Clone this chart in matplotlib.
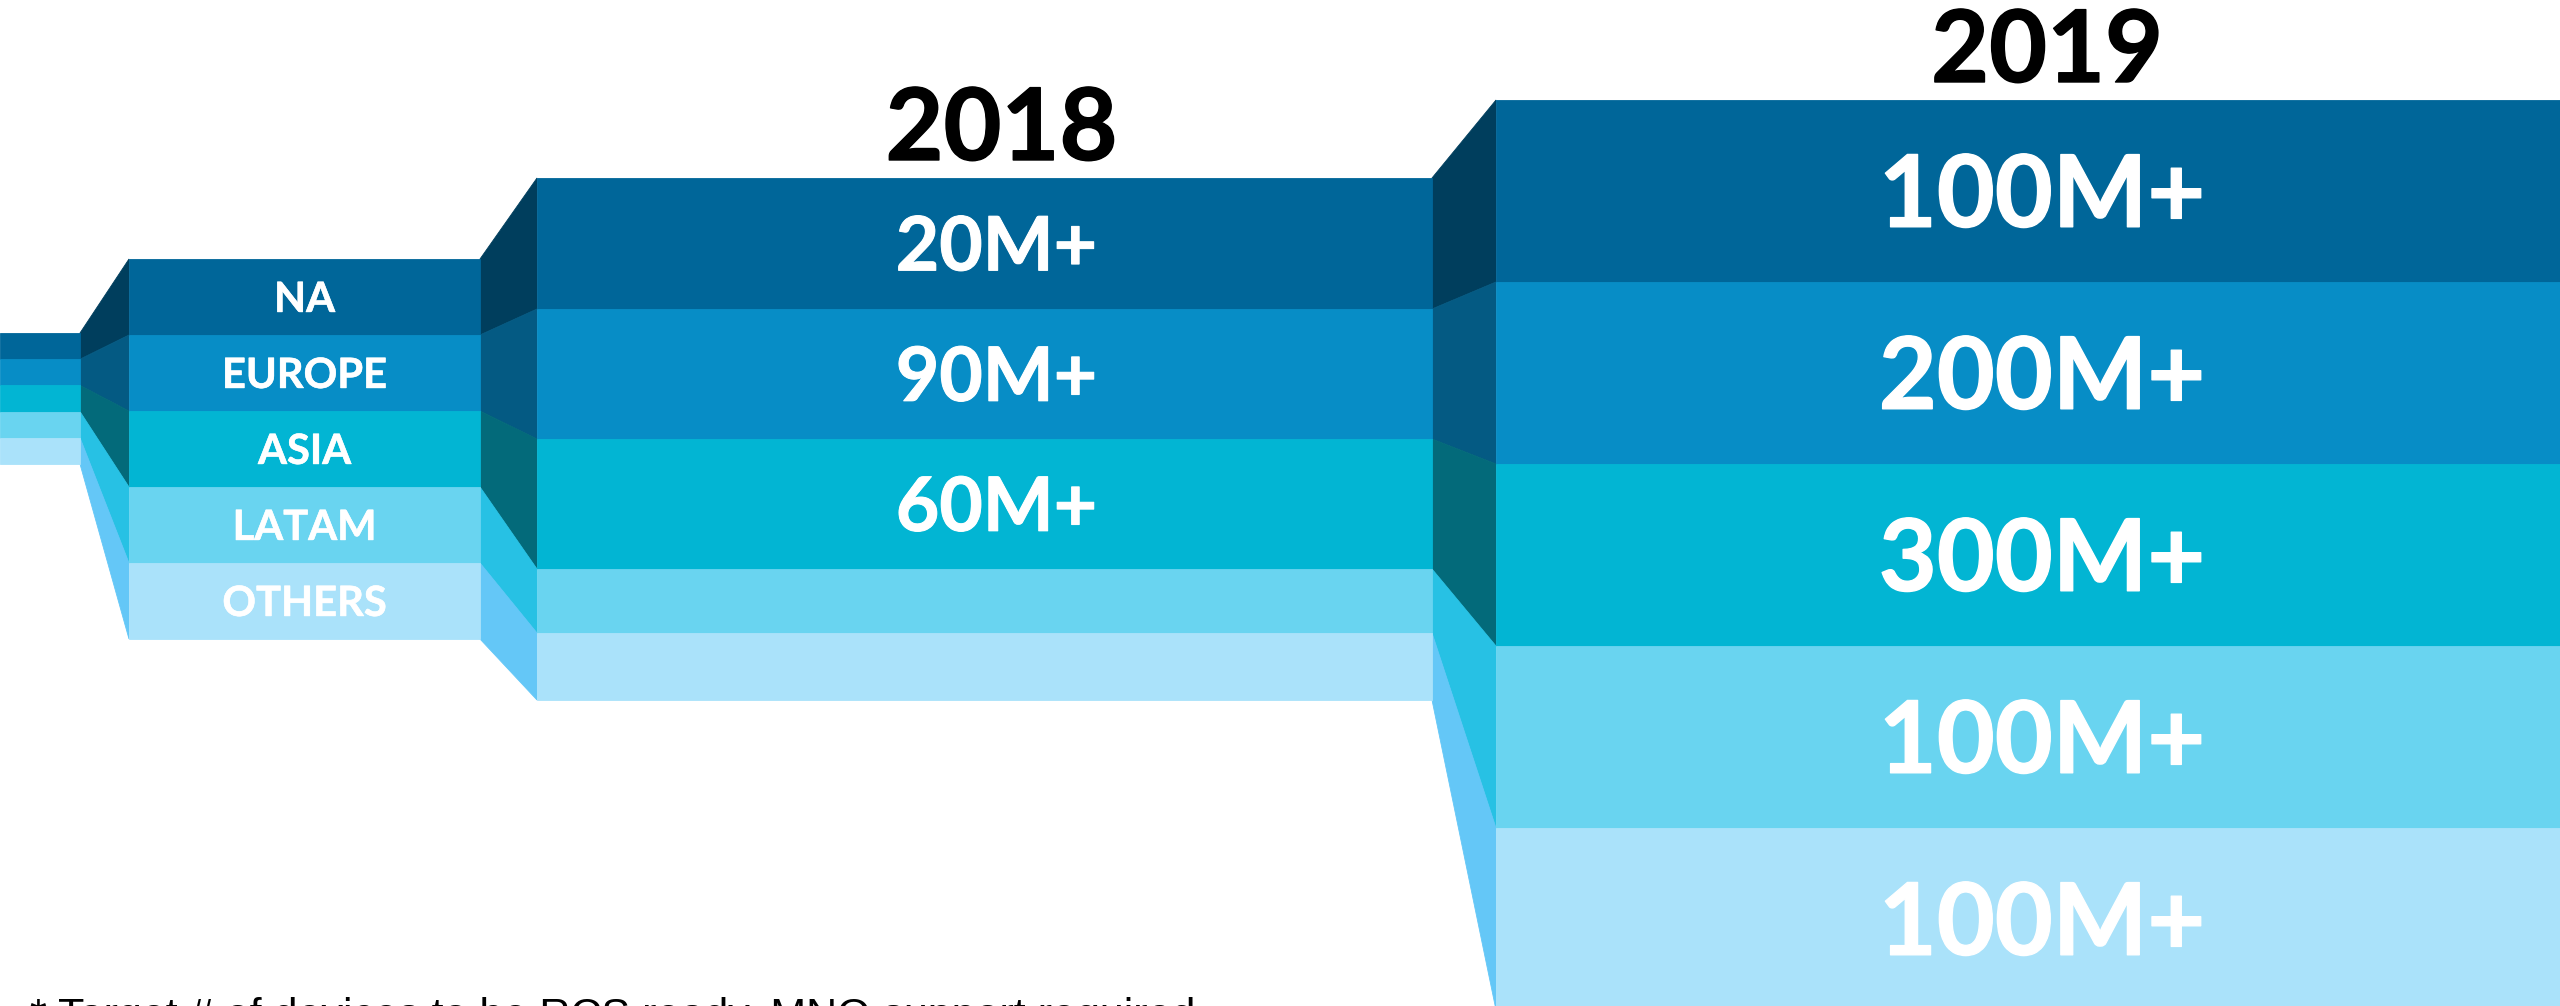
"""
Regional RCS device targets: stacked blocks per year joined by angled connectors.
"""

import matplotlib.pyplot as plt
import matplotlib.patheffects as pe

plt.style.use('default')

# Data
regions = ['NA', 'EUROPE', 'ASIA', 'LATAM', 'OTHERS']
years = ['', '', '2018', '2019']
values_2018 = ['20M+', '90M+', '60M+', '', '']
values_2019 = ['100M+', '200M+', '300M+', '100M+', '100M+']
footnote = '* Target # of devices to be RCS ready. MNO support required'

# Colours (block face / connector face) per region
block_colors = ['#006699', '#078dc6', '#02b5d3', '#69d4f0', '#aae2fa']
connector_colors = ['#003e5d', '#045a83', '#036a7a', '#27c1e4', '#64c7f7']

# Layout in pixels (figure is 2560 x 1006, y grows downwards)
W, H = 2560, 1006
block_left = [0, 129, 537, 1496]
block_right = [80, 480, 1432, 2560]
block_top = [333, 259, 178, 100]
band_heights = [[26.2] * 5, [76] * 5, [131, 130, 130, 64, 67], [182] * 5]
label_dx = [0, 0, 12, 14]

fig = plt.figure(figsize=(W / 100, H / 100), dpi=100)
ax = fig.add_axes([0, 0, 1, 1])
ax.set_xlim(0, W)
ax.set_ylim(H, 0)
ax.axis('off')

# band edges of every block
edges = []
for top, hs in zip(block_top, band_heights):
    e = [top]
    for h in hs:
        e.append(e[-1] + h)
    edges.append(e)

# blocks
for b in range(len(block_left)):
    for j in range(len(regions)):
        x0, x1 = block_left[b], block_right[b]
        y0, y1 = edges[b][j], edges[b][j + 1]
        ax.fill([x0, x1, x1, x0], [y0, y0, y1, y1],
                color=block_colors[j], lw=0.6, ec=block_colors[j], zorder=2)

# connectors between blocks
for b in range(len(block_left) - 1):
    xa, xb = block_right[b], block_left[b + 1]
    for j in range(len(regions)):
        ya0, ya1 = edges[b][j], edges[b][j + 1]
        yb0, yb1 = edges[b + 1][j], edges[b + 1][j + 1]
        ax.fill([xa, xb, xb, xa], [ya0, yb0, yb1, ya1],
                color=connector_colors[j], lw=0.6, ec=connector_colors[j], zorder=1)

font = 'Lato'
CAP = 0.7165 * 100 / 72  # cap height in px per point


def heavy(color, w):
    # Lato Bold is a bit lighter than the slide font, thicken it slightly
    return [pe.withStroke(linewidth=w, foreground=color)]


def band_text(b, j, txt, size):
    cx = (block_left[b] + block_right[b]) / 2 + label_dx[b]
    cy = (edges[b][j] + edges[b][j + 1]) / 2
    ax.text(cx, cy + size * CAP / 2, txt, ha='center', va='baseline',
            color='white', fontsize=size, fontweight='bold', family=font, zorder=5,
            path_effects=heavy('white', size / 75))


# region names in the first block
for j, r in enumerate(regions):
    band_text(1, j, r, 30)

for j, v in enumerate(values_2018):
    if v:
        band_text(2, j, v, 54)

for j, v in enumerate(values_2019):
    band_text(3, j, v, 72)

# year labels above their blocks
for b, y in enumerate(years):
    if y:
        cx = (block_left[b] + block_right[b]) / 2 + label_dx[b] + 5
        ax.text(cx, block_top[b] - 18, y, ha='center', va='baseline',
                color='black', fontsize=72, fontweight='bold', family=font,
                path_effects=heavy('black', 1.0))

# footnote, cut by the bottom edge like in the slide
ax.text(30, 997 + 31 * CAP, footnote, ha='left', va='baseline',
        color='black', fontsize=31, family='Liberation Sans')

fig.savefig('out.png', dpi=100, facecolor='white')
print('saved out.png')
